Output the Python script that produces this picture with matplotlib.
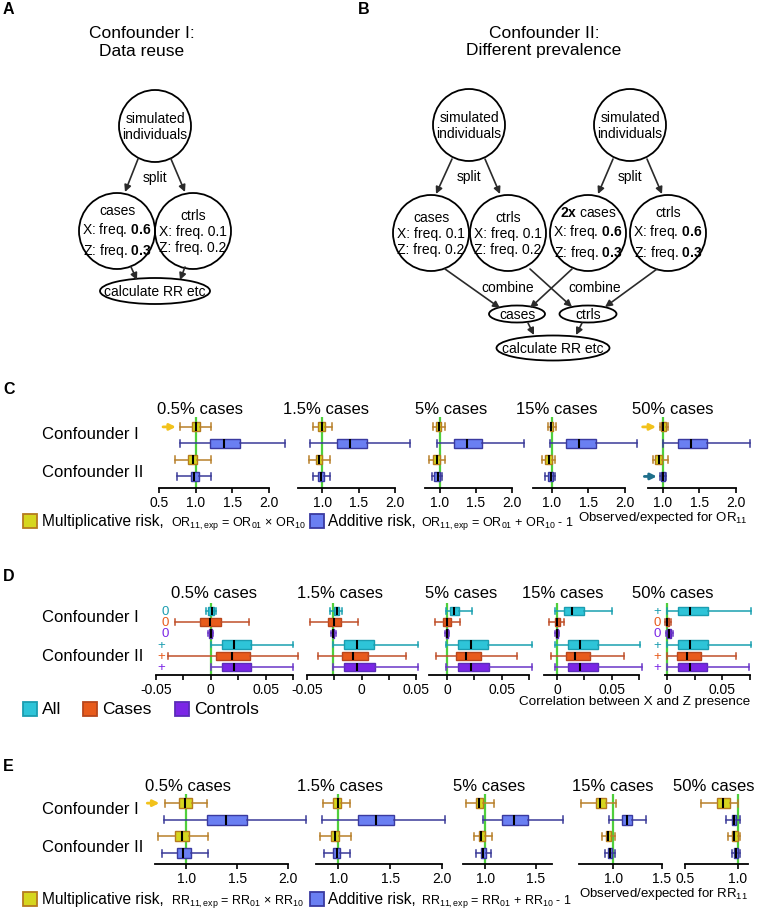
import matplotlib
matplotlib.use('Agg')
import matplotlib.pyplot as plt
from matplotlib.patches import Circle, Ellipse, Rectangle
from matplotlib.ticker import FuncFormatter, MultipleLocator

plt.rcParams['font.family'] = 'Liberation Sans'
plt.rcParams['mathtext.fontset'] = 'custom'
plt.rcParams['mathtext.rm'] = 'Liberation Sans'
plt.rcParams['mathtext.it'] = 'Liberation Sans:italic'
plt.rcParams['mathtext.bf'] = 'Liberation Sans:bold'
plt.rcParams['axes.unicode_minus'] = False

W, H = 757, 912

# ---------------- data ----------------
case_labels = ['0.5% cases', '1.5% cases', '5% cases', '15% cases', '50% cases']
row_labels = ['Confounder I', 'Confounder II']

# box stats: (whisker low, Q1, median, Q3, whisker high), one per case fraction
# C: observed/expected OR11
c_mult_conf1 = [(0.79, 0.95, 1.00, 1.06, 1.21), (0.88, 0.95, 1.00, 1.04, 1.13),
                (0.91, 0.95, 0.99, 1.02, 1.08), (0.95, 0.97, 0.99, 1.02, 1.05),
                (0.96, 0.98, 1.01, 1.04, 1.07)]
c_add_conf1 = [(0.79, 1.20, 1.39, 1.60, 2.22), (0.83, 1.20, 1.38, 1.61, 2.21),
               (0.97, 1.20, 1.38, 1.59, 2.17), (0.97, 1.19, 1.37, 1.60, 2.16),
               (1.00, 1.21, 1.39, 1.60, 2.19)]
c_mult_conf2 = [(0.72, 0.90, 0.96, 1.02, 1.21), (0.82, 0.92, 0.96, 1.00, 1.11),
                (0.86, 0.91, 0.96, 1.00, 1.08), (0.86, 0.90, 0.96, 1.00, 1.04),
                (0.87, 0.90, 0.95, 0.99, 1.07)]
c_add_conf2 = [(0.74, 0.93, 0.98, 1.04, 1.21), (0.87, 0.94, 0.98, 1.02, 1.11),
               (0.89, 0.93, 0.98, 1.01, 1.04), (0.90, 0.94, 0.98, 1.01, 1.04),
               (0.97, 0.98, 1.00, 1.03, 1.05)]

# D: correlation between X and Z presence
d_all_conf1 = [(-0.004, -0.003, 0.001, 0.003, 0.0045), (-0.0287, -0.0248, -0.0227, -0.0208, -0.0177),
               (-0.0012, 0.0031, 0.0061, 0.011, 0.0224), (-0.0015, 0.0067, 0.0136, 0.0242, 0.050),
               (0.0, 0.0097, 0.0206, 0.037, 0.0758)]
d_cases_conf1 = [(-0.033, -0.0094, -0.001, 0.0091, 0.035), (-0.0468, -0.0306, -0.0248, -0.019, -0.0034),
                 (-0.011, -0.0037, 0.0003, 0.004, 0.0123), (-0.0076, -0.002, 0.0, 0.0024, 0.0067),
                 (-0.0018, -0.0009, 0.0, 0.0012, 0.003)]
d_ctrl_conf1 = [(-0.0022, -0.0012, 0.0, 0.0012, 0.0022), (-0.028, -0.0266, -0.0257, -0.0248, -0.0234),
                (-0.0015, -0.0006, 0.0, 0.0008, 0.0018), (-0.002, -0.001, 0.0, 0.001, 0.002),
                (-0.0008, 0.0002, 0.0015, 0.003, 0.0048)]
d_all_conf2 = [(0.0, 0.0106, 0.021, 0.037, 0.075), (-0.0257, -0.0156, -0.0043, 0.0119, 0.0517),
               (-0.001, 0.0101, 0.0215, 0.0377, 0.0776), (-0.0015, 0.0097, 0.0206, 0.037, 0.0758),
               (0.0, 0.0097, 0.0206, 0.037, 0.0758)]
d_cases_conf2 = [(-0.039, 0.005, 0.019, 0.036, 0.080), (-0.040, -0.018, -0.008, 0.0058, 0.041),
                 (-0.0097, 0.0086, 0.0178, 0.0307, 0.0638), (-0.0055, 0.0085, 0.0167, 0.0303, 0.0612),
                 (0.0, 0.0085, 0.0176, 0.0303, 0.062)]
d_ctrl_conf2 = [(0.0, 0.010, 0.021, 0.037, 0.075), (-0.0257, -0.0156, -0.0043, 0.0125, 0.052),
                (-0.001, 0.0101, 0.0215, 0.0383, 0.0776), (-0.0015, 0.0097, 0.021, 0.0376, 0.0773),
                (0.0, 0.0097, 0.0206, 0.0358, 0.0745)]
d_expected = [0.0, -0.026, 0.0, 0.0, 0.0]
d_marks_first = ['0', '0', '0', '+', '+', '+']
d_marks_last = ['+', '0', '0', '+', '+', '+']

# E: observed/expected RR11
e_mult_conf1 = [(0.79, 0.93, 0.99, 1.05, 1.20), (0.85, 0.95, 1.00, 1.03, 1.11),
                (0.81, 0.91, 0.94, 0.98, 1.09), (0.67, 0.82, 0.86, 0.93, 1.03),
                (0.65, 0.80, 0.86, 0.93, 1.00)]
e_add_conf1 = [(0.78, 1.20, 1.39, 1.60, 2.18), (0.84, 1.19, 1.36, 1.54, 2.03),
               (0.98, 1.17, 1.28, 1.42, 1.77), (0.96, 1.09, 1.14, 1.19, 1.34),
               (0.89, 0.95, 0.97, 0.99, 1.02)]
e_mult_conf2 = [(0.72, 0.89, 0.96, 1.02, 1.21), (0.82, 0.93, 0.97, 1.01, 1.12),
                (0.89, 0.94, 0.96, 1.00, 1.07), (0.88, 0.93, 0.95, 0.98, 1.02),
                (0.91, 0.95, 0.97, 1.00, 1.02)]
e_add_conf2 = [(0.76, 0.91, 0.97, 1.04, 1.21), (0.86, 0.95, 0.99, 1.02, 1.11),
               (0.91, 0.96, 0.98, 1.01, 1.06), (0.92, 0.95, 0.97, 0.99, 1.02),
               (0.95, 0.97, 0.99, 1.00, 1.02)]

# colours
GREEN = '#4fcf3c'
MULT = dict(face='#d6d61e', edge='#b57b1e', whisk='#b8802a')
ADD = dict(face='#6a7ff2', edge='#3a3aa0', whisk='#3a3a98')
ALL = dict(face='#2ec4d8', edge='#1b9db0', whisk='#1aa0b0')
CASES = dict(face='#e85b1c', edge='#b8461c', whisk='#c0502a')
CTRLS = dict(face='#7b26e6', edge='#5a2cb8', whisk='#6a36c8')

fig = plt.figure(figsize=(W / 100, H / 100), dpi=100)

# overlay for diagrams and free text, pixel coordinates
bg = fig.add_axes([0, 0, 1, 1])
bg.set_xlim(0, W)
bg.set_ylim(H, 0)
bg.axis('off')


def px_axes(left, right, top, bottom):
    return fig.add_axes([left / W, 1 - bottom / H, (right - left) / W, (bottom - top) / H])


def draw_boxes(ax, rows, positions, col, width, capw):
    stats = [dict(whislo=r[0], q1=r[1], med=r[2], q3=r[3], whishi=r[4], fliers=[]) for r in rows]
    arts = ax.bxp(stats, positions=positions, widths=width, orientation='horizontal',
                  patch_artist=True, showfliers=False, manage_ticks=False, capwidths=capw,
                  boxprops=dict(facecolor=col['face'], edgecolor=col['edge'], linewidth=1.0),
                  whiskerprops=dict(color=col['whisk'], linewidth=1.1),
                  capprops=dict(color=col['whisk'], linewidth=1.1),
                  medianprops=dict(color='black', linewidth=1.5))
    for group in arts.values():
        for a in group:
            a.set_clip_on(False)


def style_axis(ax, xlim, ylim, ticks, fmt, green_x, minor=None):
    ax.set_xlim(xlim)
    ax.set_ylim(ylim)
    ax.patch.set_visible(False)
    for s in ['top', 'right', 'left']:
        ax.spines[s].set_visible(False)
    ax.spines['bottom'].set_linewidth(1.3)
    ax.set_yticks([])
    ax.set_xticks(ticks)
    ax.xaxis.set_major_formatter(FuncFormatter(fmt))
    if minor:
        ax.xaxis.set_minor_locator(MultipleLocator(minor))
        ax.tick_params(axis='x', which='minor', length=3.6, width=1.2)
    ax.tick_params(axis='x', length=3.6, width=1.2, labelsize=10, pad=1.5)
    ax.axvline(green_x, color=GREEN, lw=1.6, zorder=0.5)


def fmt1(v, p):
    return '%.1f' % v


def fmt_corr(v, p):
    return '0' if abs(v) < 1e-9 else '%g' % v


def arrow(x0, y0, x1, y1):
    bg.annotate('', xy=(x1, y1), xytext=(x0, y0),
                arrowprops=dict(arrowstyle='-|>', color='#2b2b2b', lw=1.2,
                                mutation_scale=10, shrinkA=0, shrinkB=0))


def node(x, y, text, r=37):
    bg.add_patch(Circle((x, y), r, fill=False, lw=1.3, ec='black'))
    bg.text(x, y, text, ha='center', va='center', fontsize=10, linespacing=1.2)


def oval(x, y, w, h, text):
    bg.add_patch(Ellipse((x, y), w, h, fill=False, lw=1.3, ec='black'))
    bg.text(x, y, text, ha='center', va='center', fontsize=10)


def big_arrow(ax, x0, x1, y, color):
    ax.annotate('', xy=(x1, y), xytext=(x0, y), annotation_clip=False,
                arrowprops=dict(arrowstyle='-|>', color=color, lw=2.0, mutation_scale=9,
                                shrinkA=0, shrinkB=0))


# ---------------- panel letters ----------------
for lab, x, y in [('A', 3, 10), ('B', 358, 10), ('C', 3, 390), ('D', 3, 577), ('E', 3, 767)]:
    bg.text(x, y, lab, fontsize=11.5, fontweight='bold', va='center', ha='left')

# ---------------- panel A ----------------
bg.text(142, 42, 'Confounder I:\nData reuse', ha='center', va='center', fontsize=12.5, linespacing=1.25)
node(155, 127, 'simulated\nindividuals', r=36)
bg.text(155, 178, 'split', ha='center', va='center', fontsize=10)
arrow(138, 160, 125, 193)
arrow(171, 160, 185, 193)
node(117, 232, 'cases\nX: freq. $\\mathbf{0.6}$\nZ: freq. $\\mathbf{0.3}$', r=38)
node(193, 232, 'ctrls\nX: freq. 0.1\nZ: freq. 0.2', r=38)
arrow(131, 268, 137, 281)
arrow(185, 268, 180, 281)
oval(155, 292, 110, 26, 'calculate RR etc')

# ---------------- panel B ----------------
bg.text(544, 42, 'Confounder II:\nDifferent prevalence', ha='center', va='center', fontsize=12.5,
        linespacing=1.25)
node(469, 126, 'simulated\nindividuals', r=36)
node(630, 126, 'simulated\nindividuals', r=36)
bg.text(469, 177, 'split', ha='center', va='center', fontsize=10)
bg.text(630, 177, 'split', ha='center', va='center', fontsize=10)
arrow(452, 160, 436, 195)
arrow(485, 160, 500, 195)
arrow(613, 160, 598, 195)
arrow(647, 160, 662, 195)
node(431, 234, 'cases\nX: freq. 0.1\nZ: freq. 0.2', r=38)
node(508, 234, 'ctrls\nX: freq. 0.1\nZ: freq. 0.2', r=38)
node(588, 234, '$\\mathbf{2x}$ cases\nX: freq. $\\mathbf{0.6}$\nZ: freq. $\\mathbf{0.3}$', r=38)
node(668, 234, 'ctrls\nX: freq. $\\mathbf{0.6}$\nZ: freq. $\\mathbf{0.3}$', r=38)
bg.text(508, 288, 'combine', ha='center', va='center', fontsize=10)
bg.text(595, 288, 'combine', ha='center', va='center', fontsize=10)
arrow(445, 270, 500, 309)
arrow(572, 270, 530, 309)
arrow(530, 270, 572, 308)
arrow(657, 270, 605, 308)
oval(517, 315, 56, 17, 'cases')
oval(588, 315, 57, 17, 'ctrls')
arrow(528, 324, 534, 336)
arrow(582, 324, 576, 336)
oval(553, 349, 113, 25, 'calculate RR etc')

# ---------------- panel C ----------------
c_ax_px = [(159, 269), (298, 395), (425, 512), (533, 625), (648, 736)]
c_xlims = [(0.5, 2.0), (0.67, 2.0), (0.8, 2.0), (0.74, 2.0), (0.8, 2.0)]
c_ticks = [[0.5, 1.0, 1.5, 2.0]] + [[1.0, 1.5, 2.0]] * 4
c_title_x = [200, 326, 451, 557, 673]
c_axes = []
for i in range(5):
    ax = px_axes(c_ax_px[i][0], c_ax_px[i][1], 418, 489)
    style_axis(ax, c_xlims[i], (3.7, -0.6), c_ticks[i], fmt1, 1.0)
    draw_boxes(ax, [c_mult_conf1[i], c_mult_conf2[i]], [0, 2], MULT, 0.55, 0.42)
    draw_boxes(ax, [c_add_conf1[i], c_add_conf2[i]], [1, 3], ADD, 0.55, 0.42)
    bg.text(c_title_x[i], 410, case_labels[i], ha='center', va='center', fontsize=12)
    c_axes.append(ax)
big_arrow(c_axes[0], 0.555, 0.73, 0, '#f2c21b')
big_arrow(c_axes[4], 0.727, 0.91, 0, '#f2c21b')
big_arrow(c_axes[4], 0.75, 0.92, 3, '#1f6f8b')
bg.text(42, 435, row_labels[0], ha='left', va='center', fontsize=12)
bg.text(42, 473, row_labels[1], ha='left', va='center', fontsize=12)

# legend C
bg.add_patch(Rectangle((23, 515), 14, 14, fc=MULT['face'], ec=MULT['edge'], lw=1.3))
bg.text(42, 522, 'Multiplicative risk,', ha='left', va='center', fontsize=11.2)
bg.text(171, 524, 'OR$_{11,\\mathrm{exp}}$ = OR$_{01}$ × OR$_{10}$', ha='left', va='center', fontsize=9)
bg.add_patch(Rectangle((310, 515), 14, 14, fc=ADD['face'], ec=ADD['edge'], lw=1.3))
bg.text(328, 522, 'Additive risk,', ha='left', va='center', fontsize=11.2)
bg.text(421, 524, 'OR$_{11,\\mathrm{exp}}$ = OR$_{01}$ + OR$_{10}$ - 1', ha='left', va='center', fontsize=9)
bg.text(748, 518, 'Observed/expected for OR$_{11}$', ha='right', va='center', fontsize=9.5)

# ---------------- panel D ----------------
d_ax_px = [(156, 293), (307, 416), (429, 529), (544, 639), (665, 750)]
d_xlims = [(-0.05, 0.075), (-0.05, 0.05), (-0.0165, 0.075), (-0.012, 0.075), (-0.002, 0.075)]
d_ticks = [[-0.05, 0.0, 0.05]] * 2 + [[0.0, 0.05]] * 3
d_title_x = [214, 340, 461, 563, 673]
d_rows_y = [612, 623, 634, 646, 657, 668]
for i in range(5):
    ax = px_axes(d_ax_px[i][0], d_ax_px[i][1], 604, 676)
    style_axis(ax, d_xlims[i], (5.7, -0.7), d_ticks[i], fmt_corr, d_expected[i], minor=0.025)
    draw_boxes(ax, [d_all_conf1[i], d_all_conf2[i]], [0, 3], ALL, 0.75, 0.5)
    draw_boxes(ax, [d_cases_conf1[i], d_cases_conf2[i]], [1, 4], CASES, 0.75, 0.5)
    draw_boxes(ax, [d_ctrl_conf1[i], d_ctrl_conf2[i]], [2, 5], CTRLS, 0.75, 0.5)
    bg.text(d_title_x[i], 594, case_labels[i], ha='center', va='center', fontsize=12)
mark_cols = [ALL['edge'], CASES['face'], CTRLS['face']] * 2
for k in range(6):
    x_first = 165 if d_marks_first[k] == '0' else 161
    bg.text(x_first, d_rows_y[k], d_marks_first[k], ha='center', va='center', fontsize=9.5, color=mark_cols[k])
    bg.text(657, d_rows_y[k], d_marks_last[k], ha='center', va='center', fontsize=9.5, color=mark_cols[k])
bg.text(42, 618, row_labels[0], ha='left', va='center', fontsize=12)
bg.text(42, 657, row_labels[1], ha='left', va='center', fontsize=12)

# legend D
for (x0, lab, col) in [(23, 'All', ALL), (83, 'Cases', CASES), (175, 'Controls', CTRLS)]:
    bg.add_patch(Rectangle((x0, 703), 14, 14, fc=col['face'], ec=col['edge'], lw=1.3))
    bg.text(x0 + 19, 710, lab, ha='left', va='center', fontsize=12.5)
bg.text(750, 702, 'Correlation between X and Z presence', ha='right', va='center', fontsize=9.7)

# ---------------- panel E ----------------
e_ax_px = [(155, 288), (316, 442), (463, 552), (579, 662), (685, 748)]
e_xlims = [(0.69, 2.0), (0.785, 2.0), (0.78, 1.66), (0.648, 1.5), (0.5, 1.1)]
e_ticks = [[1.0, 1.5, 2.0], [1.0, 1.5, 2.0], [1.0, 1.5], [1.0, 1.5], [0.5, 1.0]]
e_title_x = [188, 340, 489, 613, 714]
e_axes = []
for i in range(5):
    ax = px_axes(e_ax_px[i][0], e_ax_px[i][1], 795, 865)
    style_axis(ax, e_xlims[i], (3.66, -0.55), e_ticks[i], fmt1, 1.0)
    draw_boxes(ax, [e_mult_conf1[i], e_mult_conf2[i]], [0, 2], MULT, 0.6, 0.42)
    draw_boxes(ax, [e_add_conf1[i], e_add_conf2[i]], [1, 3], ADD, 0.6, 0.42)
    bg.text(e_title_x[i], 787, case_labels[i], ha='center', va='center', fontsize=12)
    e_axes.append(ax)
big_arrow(e_axes[0], 0.614, 0.733, 0, '#f2c21b')
bg.text(42, 810, row_labels[0], ha='left', va='center', fontsize=12)
bg.text(42, 848, row_labels[1], ha='left', va='center', fontsize=12)

# legend E
bg.add_patch(Rectangle((23, 893), 14, 14, fc=MULT['face'], ec=MULT['edge'], lw=1.3))
bg.text(42, 900, 'Multiplicative risk,', ha='left', va='center', fontsize=11.2)
bg.text(171, 902, 'RR$_{11,\\mathrm{exp}}$ = RR$_{01}$ × RR$_{10}$', ha='left', va='center', fontsize=9)
bg.add_patch(Rectangle((310, 893), 14, 14, fc=ADD['face'], ec=ADD['edge'], lw=1.3))
bg.text(328, 900, 'Additive risk,', ha='left', va='center', fontsize=11.2)
bg.text(421, 902, 'RR$_{11,\\mathrm{exp}}$ = RR$_{01}$ + RR$_{10}$ - 1', ha='left', va='center', fontsize=9)
bg.text(748, 894, 'Observed/expected for RR$_{11}$', ha='right', va='center', fontsize=9.5)

fig.savefig('out.png', dpi=100)
